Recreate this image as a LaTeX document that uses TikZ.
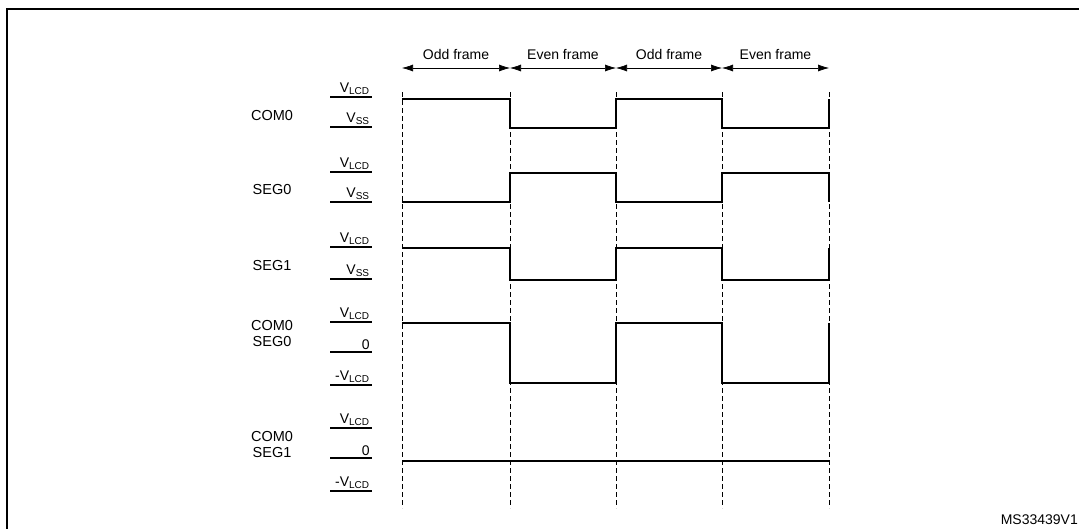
\documentclass[tikz,border=0pt]{standalone}
\usepackage{fontspec}
\setmainfont{Liberation Sans}
\usetikzlibrary{arrows.meta}
\tikzset{
  wave/.style = {line width=1.8pt},
  lvl/.style = {line width=1.8pt},
  grid/.style = {dashed, line width=0.6pt, dash pattern=on 5pt off 3pt},
  lvltxt/.style = {anchor=south east, inner sep=1.5pt, font=\fontsize{14}{15}\selectfont},
  sig/.style = {align=center, font=\fontsize{14.5}{16}\selectfont, inner sep=0pt},
  frm/.style = {font=\fontsize{14}{15}\selectfont, inner sep=0pt}
}
\newcommand{\vl}[1]{V\textsubscript{\fontsize{10}{11}\selectfont #1}}
\begin{document}
\begin{tikzpicture}[x=1pt, y=-1pt]
    \useasboundingbox (0,0) rectangle (1079,528);
    % frame
    \draw[line width=1.5pt] (7,540) -- (7,9) -- (1090,9);
    % frame borders
    \foreach \x [count=\i] in {402,510,616,722,829} {
      \coordinate (t\i) at (\x,92);
      \coordinate (b\i) at (\x,508);
      \draw[grid] (t\i) -- (b\i);
    }
    % frame arrows and labels
    \foreach \a/\b/\t in {1/2/Odd frame, 2/3/Even frame, 3/4/Odd frame, 4/5/Even frame} {
      \draw[{Latex[length=11pt,width=7pt]}-{Latex[length=11pt,width=7pt]}, line width=0.6pt]
        ([yshift=24pt]t\a) -- ([yshift=24pt]t\b)
        node[frm, midway, above=8pt] {\t};
    }
    % level marks
    \foreach \y/\t in {97/\vl{LCD}, 127/\vl{SS}, 172/\vl{LCD}, 202/\vl{SS},
                       247/\vl{LCD}, 279/\vl{SS}, 322/\vl{LCD}, 352/0, 385/-\vl{LCD},
                       428/\vl{LCD}, 458/0, 491/-\vl{LCD}} {
      \draw[lvl] (330,\y) -- (372,\y) node[lvltxt] {\t};
    }
    % signal names
    \node[sig] (com0) at (272,116) {COM0};
    \node[sig] (seg0) at (272,190) {SEG0};
    \node[sig] (seg1) at (272,266) {SEG1};
    \node[sig] (cs0) at (272,334) {COM0\\SEG0};
    \node[sig] (cs1) at (272,445) {COM0\\SEG1};
    % waveforms
    \draw[wave] (402,99) -- (510,99) -- (510,128) -- (616,128) -- (616,99)
      -- (722,99) -- (722,128) -- (829,128) -- (829,99);
    \draw[wave] (402,202) -- (510,202) -- (510,173) -- (616,173) -- (616,202)
      -- (722,202) -- (722,173) -- (829,173) -- (829,202);
    \draw[wave] (402,248) -- (510,248) -- (510,280) -- (616,280) -- (616,248)
      -- (722,248) -- (722,280) -- (829,280) -- (829,248);
    \draw[wave] (402,323) -- (510,323) -- (510,383) -- (616,383) -- (616,323)
      -- (722,323) -- (722,383) -- (829,383) -- (829,323);
    \draw[wave] (402,461) -- (829,461);
    \node[anchor=base east, frm] (ref) at (1078,524) {MS33439V1};
\end{tikzpicture}
\end{document}
